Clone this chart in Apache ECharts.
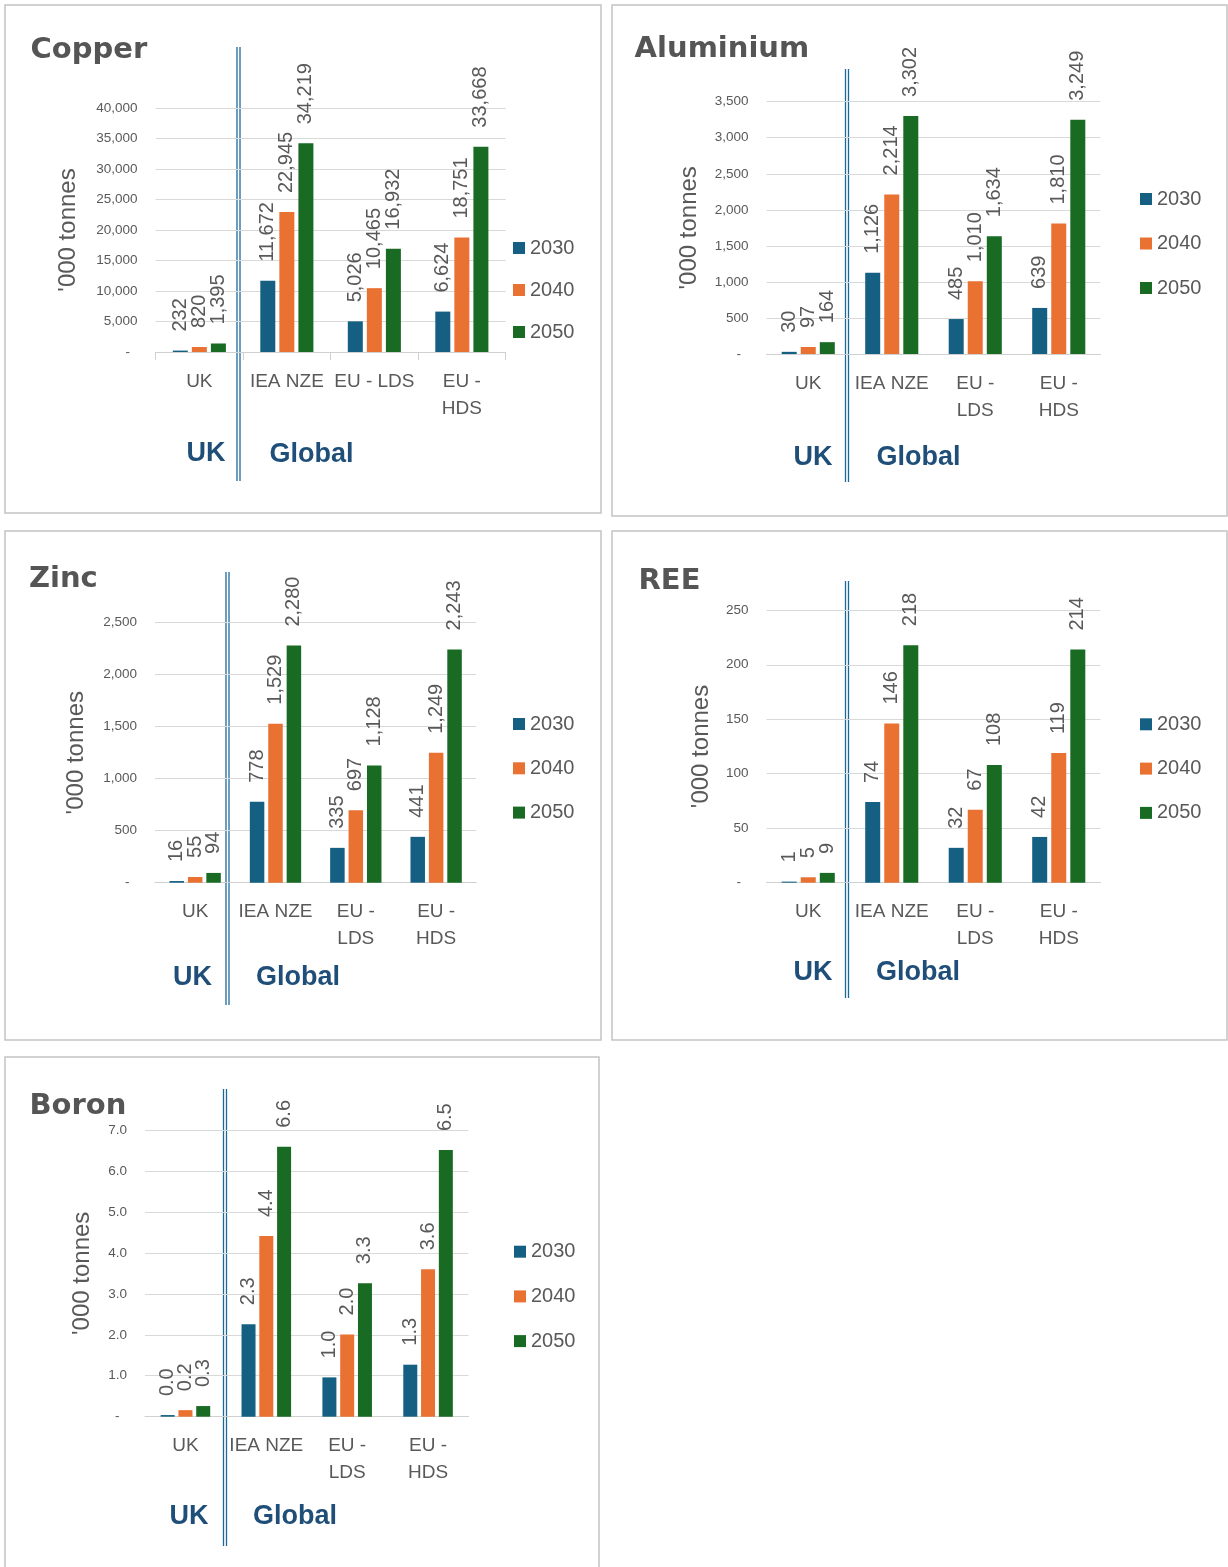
<!DOCTYPE html>
<html><head><meta charset="utf-8">
<script src="https://cdn.jsdelivr.net/npm/echarts@6/dist/echarts.min.js"></script>
<style>html,body{margin:0;padding:0;background:#fff;} #c{width:1228px;height:1567px;}</style>
</head><body><div id="c"></div>
<script>
const categories = ['UK', 'IEA NZE', 'EU - LDS', 'EU - HDS'];
const years = ['2030', '2040', '2050'];

const copper2030 = [232, 11672, 5026, 6624];
const copper2040 = [820, 22945, 10465, 18751];
const copper2050 = [1395, 34219, 16932, 33668];
const copperTicks = [0, 5000, 10000, 15000, 20000, 25000, 30000, 35000, 40000];

const aluminium2030 = [30, 1126, 485, 639];
const aluminium2040 = [97, 2214, 1010, 1810];
const aluminium2050 = [164, 3302, 1634, 3249];
const aluminiumTicks = [0, 500, 1000, 1500, 2000, 2500, 3000, 3500];

const zinc2030 = [16, 778, 335, 441];
const zinc2040 = [55, 1529, 697, 1249];
const zinc2050 = [94, 2280, 1128, 2243];
const zincTicks = [0, 500, 1000, 1500, 2000, 2500];

const ree2030 = [1, 74, 32, 42];
const ree2040 = [5, 146, 67, 119];
const ree2050 = [9, 218, 108, 214];
const reeTicks = [0, 50, 100, 150, 200, 250];

const boron2030 = [0.04, 2.26, 0.96, 1.27];
const boron2040 = [0.16, 4.41, 2.01, 3.6];
const boron2050 = [0.26, 6.59, 3.26, 6.51];
const boronTicks = [0, 1, 2, 3, 4, 5, 6, 7];

const colors = ['#156082', '#E97132', '#196B24'];
const grey = '#595959';
const FONT = '"Liberation Sans", Arial, sans-serif';

const panels = [
  {title: 'Copper', data: [copper2030, copper2040, copper2050], ticks: copperTicks, dec: 0,
   box: [5, 5, 596, 508], grid: [155.6, 108, 505.6, 352], titlePos: [30.5, 46.5], legend: [513, 248, 42], nameGap: 75,
   sep: [238.5, 47, 481], uk: [206, 454], global: [311.5, 455], barW: 15, showTicks: true, oneLine: ['UK', 'IEA NZE', 'EU - LDS']},
  {title: 'Aluminium', data: [aluminium2030, aluminium2040, aluminium2050], ticks: aluminiumTicks, dec: 0,
   box: [612, 5, 615, 511], grid: [766.5, 101.7, 1100.5, 354], titlePos: [634.6, 46], legend: [1140, 199, 44.5], nameGap: 65.5,
   sep: [847, 69, 482], uk: [813, 458], global: [918.5, 458], barW: 15, showTicks: false, oneLine: ['UK', 'IEA NZE']},
  {title: 'Zinc', data: [zinc2030, zinc2040, zinc2050], ticks: zincTicks, dec: 0,
   box: [5, 531, 596, 509], grid: [155, 622.7, 476.3, 882.7], titlePos: [29, 576], legend: [513, 724, 44.3], nameGap: 67,
   sep: [227.5, 572, 1005], uk: [192.4, 978], global: [298, 978], barW: 14.5, showTicks: false, oneLine: ['UK', 'IEA NZE']},
  {title: 'REE', data: [ree2030, ree2040, ree2050], ticks: reeTicks, dec: 0,
   box: [612, 531, 615, 509], grid: [766.5, 610.3, 1100.5, 882.7], titlePos: [638.5, 578], legend: [1140, 724.3, 44.3], nameGap: 53.5,
   sep: [847, 581, 998], uk: [813, 973], global: [918, 973], barW: 15, showTicks: false, oneLine: ['UK', 'IEA NZE']},
  {title: 'Boron', data: [boron2030, boron2040, boron2050], ticks: boronTicks, dec: 1,
   box: [5, 1057, 594, 520], grid: [145, 1130, 468.5, 1416.7], titlePos: [29.5, 1103], legend: [514, 1251.7, 44.7], nameGap: 50.5,
   sep: [225, 1089, 1546], uk: [189, 1517], global: [295, 1517], barW: 14, showTicks: false, oneLine: ['UK', 'IEA NZE']}
];

const TITLE_SHIFT = 3.5;

function fmt(v, dec) {
  return dec ? Number(v).toFixed(dec) : Number(v).toLocaleString('en-US');
}

const option = {
  animation: false,
  backgroundColor: '#ffffff',
  textStyle: {fontFamily: FONT},
  grid: [], xAxis: [], yAxis: [], series: [], legend: [], graphic: []
};

panels.forEach((p, i) => {
  const [gl, gt, gr, gb] = p.grid;
  option.grid.push({left: gl, top: gt, width: gr - gl, height: gb - gt, containLabel: false});
  option.xAxis.push({
    type: 'category', gridIndex: i, data: categories,
    axisLine: {show: true, lineStyle: {color: '#d0d0d0', width: 1}},
    axisTick: {show: p.showTicks, length: 8, lineStyle: {color: '#d0d0d0'}},
    axisLabel: {
      interval: 0, color: grey, fontSize: 19, fontFamily: FONT, margin: 16, lineHeight: 27,
      formatter: v => p.oneLine.includes(v) ? v : v.replace('EU - ', 'EU -\n')
    }
  });
  const step = p.ticks[1] - p.ticks[0];
  option.yAxis.push({
    type: 'value', gridIndex: i, min: p.ticks[0], max: p.ticks[p.ticks.length - 1], interval: step,
    axisLine: {show: false}, axisTick: {show: false},
    splitLine: {show: true, lineStyle: {color: '#d9d9d9', width: 1}},
    axisLabel: {color: grey, fontSize: 13.5, fontFamily: FONT, margin: 18,
      formatter: v => v === 0 ? '-  ' : fmt(v, p.dec)},
    name: "'000 tonnes", nameLocation: 'middle', nameRotate: 90, nameGap: p.nameGap,
    nameTextStyle: {fontSize: 24, color: grey, fontFamily: FONT}
  });
  years.forEach((y, k) => {
    option.series.push({
      type: 'bar', name: y, xAxisIndex: i, yAxisIndex: i, data: p.data[k],
      barWidth: p.barW, barGap: '27%',
      itemStyle: {color: colors[k]},
      label: {
        show: true, position: 'top', distance: 19, rotate: 90, align: 'left', verticalAlign: 'middle',
        fontSize: 20, color: grey, fontFamily: FONT,
        formatter: d => fmt(d.value, p.dec)
      }
    });
  });
  option.legend.push({
    orient: 'vertical', left: p.legend[0], top: p.legend[1] - 10, itemGap: p.legend[2] - 20,
    itemWidth: 12, itemHeight: 12, padding: 0, icon: 'rect', data: years,
    textStyle: {fontSize: 20, color: grey, fontFamily: FONT}
  });
  option.graphic.push({type: 'rect', silent: true, z: -1,
    shape: {x: p.box[0], y: p.box[1], width: p.box[2], height: p.box[3]},
    style: {fill: 'none', stroke: '#c4c4c4', lineWidth: 1.5}});
  option.graphic.push({type: 'text', silent: true, x: p.titlePos[0], y: p.titlePos[1] + TITLE_SHIFT,
    style: {text: p.title, font: 'bold 29px "DejaVu Sans", sans-serif', fill: '#555555',
      align: 'left', verticalAlign: 'middle', textAlign: 'left', textVerticalAlign: 'middle'}});
  [-1.5, 1.5].forEach(dx => {
    option.graphic.push({type: 'line', silent: true,
      shape: {x1: p.sep[0] + dx, y1: p.sep[1], x2: p.sep[0] + dx, y2: p.sep[2]},
      style: {stroke: '#1D6A99', lineWidth: 1.3}});
  });
  [['UK', p.uk], ['Global', p.global]].forEach(([t, pos]) => {
    option.graphic.push({type: 'text', silent: true, x: pos[0], y: pos[1],
      style: {text: t, font: 'bold 27px "Liberation Sans", Arial, sans-serif', fill: '#1F4E79',
        align: 'center', verticalAlign: 'middle', textAlign: 'center', textVerticalAlign: 'middle'}});
  });
});

const chart = echarts.init(document.getElementById('c'), null, {renderer: 'canvas', width: 1228, height: 1567});
chart.setOption(option);
</script>
</body></html>
